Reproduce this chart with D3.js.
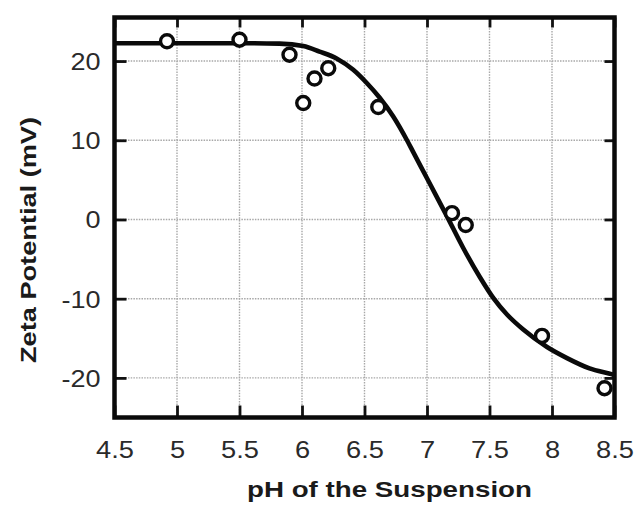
<!DOCTYPE html>
<html><head><meta charset="utf-8">
<script src="https://cdn.jsdelivr.net/npm/d3@7"></script>
<style>body{margin:0;background:#fff}</style>
</head><body>
<svg id="c" width="638" height="510"></svg>
<script>
// data
const pointPH   = [4.92, 5.50, 5.90, 6.01, 6.10, 6.21, 6.61, 7.20, 7.31, 7.92, 8.42];
const pointZeta = [22.5, 22.7, 20.8, 14.7, 17.8, 19.1, 14.2, 0.8, -0.7, -14.7, -21.3];
const curvePH   = [4.5, 5.0, 5.5, 5.82, 6.01, 6.14, 6.28, 6.41, 6.52, 6.62, 6.73, 6.84, 6.89, 7.02, 7.16, 7.29, 7.42, 7.53, 7.64, 7.77, 7.96, 8.12, 8.30, 8.49, 8.5];
const curveZeta = [22.25, 22.25, 22.25, 22.2, 21.9, 21.2, 20.3, 18.9, 17.2, 15.4, 13.0, 10.0, 8.5, 4.6, 0.4, -3.6, -7.2, -9.9, -12.0, -13.9, -16.1, -17.5, -18.8, -19.6, -19.65];
const xTicks = [4.5, 5, 5.5, 6, 6.5, 7, 7.5, 8, 8.5];
const yTicks = [-20, -10, 0, 10, 20];
const xLabel = "pH of the Suspension";
const yLabel = "Zeta Potential (mV)";

const L = 114.5, R = 614.5, T = 17.5, B = 417.5;
const x = d3.scaleLinear().domain([4.5, 8.5]).range([L, R]);
const y = d3.scaleLinear().domain([-25, 25.5]).range([B, T]);
const svg = d3.select("#c");
const font = "'Liberation Sans', Arial, Helvetica, sans-serif";
const fmt = d => String(d);

// grid
const grid = svg.append("g").attr("stroke", "#a8a8a8").attr("stroke-width", 1.4).attr("stroke-dasharray", "1.5,1.2");
grid.selectAll("line.v").data(xTicks.slice(1, -1)).join("line")
  .attr("x1", d => x(d)).attr("x2", d => x(d)).attr("y1", T).attr("y2", B);
grid.selectAll("line.h").data(yTicks).join("line")
  .attr("y1", d => y(d)).attr("y2", d => y(d)).attr("x1", L).attr("x2", R);

// axes with inward ticks
function styleAxis(g) {
  g.select(".domain").remove();
  g.selectAll(".tick line").attr("stroke", "#111").attr("stroke-width", 2.8);
}
const gb = svg.append("g").attr("transform", `translate(0,${B})`)
  .call(d3.axisBottom(x).tickValues(xTicks).tickSizeInner(-12).tickSizeOuter(0).tickFormat(fmt));
styleAxis(gb);
gb.selectAll(".tick text").attr("x", 0).attr("y", 0).attr("dy", 0)
  .attr("transform", "translate(0,40.5) scale(1.16,1)")
  .attr("font-family", font).attr("font-size", 23.5).attr("fill", "#2a2a2a");

const gl = svg.append("g").attr("transform", `translate(${L},0)`)
  .call(d3.axisLeft(y).tickValues(yTicks).tickSizeInner(-12).tickSizeOuter(0).tickFormat(fmt));
styleAxis(gl);
gl.selectAll(".tick text").attr("x", 0).attr("dy", "0.36em")
  .attr("transform", "translate(-14,0) scale(1.15,1)")
  .attr("font-family", font).attr("font-size", 23.5).attr("fill", "#2a2a2a");

const gt = svg.append("g").attr("transform", `translate(0,${T})`)
  .call(d3.axisTop(x).tickValues(xTicks).tickSizeInner(-10).tickSizeOuter(0).tickFormat(""));
styleAxis(gt);
const gr = svg.append("g").attr("transform", `translate(${R},0)`)
  .call(d3.axisRight(y).tickValues(yTicks).tickSizeInner(-10).tickSizeOuter(0).tickFormat(""));
styleAxis(gr);

// frame
svg.append("rect").attr("x", L).attr("y", T).attr("width", R - L).attr("height", B - T)
  .attr("fill", "none").attr("stroke", "#0a0a0a").attr("stroke-width", 4.5);

// curve
const curve = curvePH.map((p, i) => [p, curveZeta[i]]);
svg.append("path").datum(curve)
  .attr("d", d3.line().x(d => x(d[0])).y(d => y(d[1])).curve(d3.curveMonotoneX))
  .attr("fill", "none").attr("stroke", "#0a0a0a").attr("stroke-width", 4.6)
  .attr("stroke-linejoin", "round");

// points
svg.append("g").selectAll("circle").data(pointPH.map((p, i) => [p, pointZeta[i]])).join("circle")
  .attr("cx", d => x(d[0])).attr("cy", d => y(d[1])).attr("r", 6.5)
  .attr("fill", "#fff").attr("stroke", "#0a0a0a").attr("stroke-width", 3.4);

// labels
svg.append("text").attr("x", 389.5).attr("y", 497).attr("text-anchor", "middle")
  .attr("font-family", font).attr("font-weight", "bold").attr("font-size", 22.5)
  .attr("fill", "#1a1a1a").attr("textLength", 285).attr("lengthAdjust", "spacingAndGlyphs")
  .text(xLabel);
svg.append("text").attr("transform", "translate(35.5,240) rotate(-90)").attr("text-anchor", "middle")
  .attr("font-family", font).attr("font-weight", "bold").attr("font-size", 22)
  .attr("fill", "#1a1a1a").attr("textLength", 246).attr("lengthAdjust", "spacingAndGlyphs")
  .text(yLabel);
</script>
</body></html>
